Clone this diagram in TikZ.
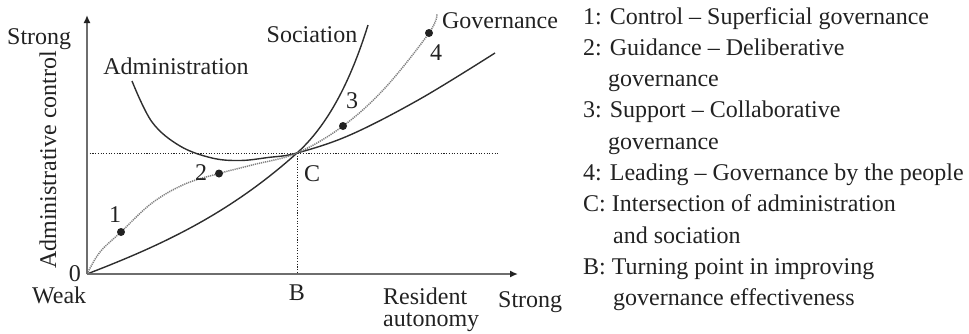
\documentclass[tikz,border=0pt]{standalone}
\usepackage{fontspec}
\setmainfont{Liberation Serif}
\usetikzlibrary{arrows.meta}
\definecolor{ink}{HTML}{222222}
\definecolor{curve}{HTML}{2E2E2E}
\definecolor{axisgray}{HTML}{6E6E6E}
\definecolor{govgray}{HTML}{808080}
\begin{document}
\begin{tikzpicture}[x=1pt,y=-1pt,
  txt/.style={inner sep=0pt, text=ink, font=\fontsize{24}{28}\selectfont},
  axisline/.style={draw=axisgray, line width=2pt, -{Latex[length=8pt,width=7pt,color=ink]}},
  solidcurve/.style={draw=curve, line width=1.4pt},
  govcurve/.style={draw=govgray, line width=1.5pt, dash pattern=on 1.2pt off 0.9pt},
  guide/.style={draw=ink, line width=1pt, dash pattern=on 1.1pt off 1.6pt},
  stage/.style={fill=ink}]
\useasboundingbox (0,0) rectangle (969,333);

% key positions
\coordinate (O) at (87,274);
\coordinate (Ytip) at (87,15);
\coordinate (Xtip) at (518,274);
\coordinate (C) at (297,153);
\coordinate (Bfoot) at (297,274);
\coordinate (Hleft) at (87,153);
\coordinate (Hright) at (498,153);
\coordinate (Stop) at (368,25);
\coordinate (P1) at (121,232);
\coordinate (P2) at (219,173.5);
\coordinate (P3) at (343,126);
\coordinate (P4) at (429,33);

% guide lines through C
\draw[guide] (Hleft) -- (Hright);
\draw[guide] (C) -- (Bfoot);

% administration curve
\draw[solidcurve] plot[smooth, tension=0.6] coordinates
  {(132,81) (152,122) (180,146) (212,158) (240,160.5) (268,157.5) (C) (350,135) (420,99) (495,53)};

% sociation curve
\draw[solidcurve] (O) .. controls (157,247) and (227,216) .. (C)
  .. controls (327,126) and (350,83) .. (Stop);

% governance path
\draw[govcurve] plot[smooth, tension=0.6] coordinates
  {(O) (100,252) (P1) (152,203) (185,184) (P2) (252,165) (C) (P3) (385,88) (P4) (437,14)};

% axes
\draw[axisline] (O) -- (Ytip);
\draw[axisline] (O) -- (Xtip);

% stages
\fill[stage] (P1) circle[radius=4pt];
\fill[stage] (P2) circle[radius=4pt];
\fill[stage] (P3) circle[radius=4pt];
\fill[stage] (P4) circle[radius=4pt];

% axis labels
\node[txt, anchor=base west] (ystrong) at (7,44) {Strong};
\node[txt, anchor=base east] (zero) at (81,281) {0};
\node[txt, anchor=base west] (weak) at (32,303) {Weak};
\node[txt, anchor=base, rotate=90] (ylab) at (56,160) {Administrative control};
\node[txt, anchor=base] (blab) at (297,300) {B};
\node[txt, anchor=base west] (clab) at (304,181) {C};
\node[txt, anchor=base west, align=left, font=\fontsize{24}{22}\selectfont] (xlab) at (383,326) {Resident\\autonomy};
\node[txt, anchor=base west] (xstrong) at (498,307) {Strong};

% curve labels
\node[txt, anchor=base] (admlab) at (176,74) {Administration};
\node[txt, anchor=base] (soclab) at (312,42) {Sociation};
\node[txt, anchor=base] (govlab) at (500,28) {Governance};
\node[txt, anchor=base] (n1) at (115,222) {1};
\node[txt, anchor=base] (n2) at (201,180) {2};
\node[txt, anchor=base] (n3) at (352,108) {3};
\node[txt, anchor=base] (n4) at (436,60) {4};

% legend
\node[txt, anchor=base west] (l1) at (583,24) {1: Control -- Superficial governance};
\node[txt, anchor=base west] (l2) at (583,55.3) {2: Guidance -- Deliberative};
\node[txt, anchor=base west] (l2b) at (608,86.6) {governance};
\node[txt, anchor=base west] (l3) at (583,117.9) {3: Support -- Collaborative};
\node[txt, anchor=base west] (l3b) at (608,149.2) {governance};
\node[txt, anchor=base west] (l4) at (583,180.5) {4: Leading -- Governance by the people};
\node[txt, anchor=base west] (l5) at (583,211.8) {C: Intersection of administration};
\node[txt, anchor=base west] (l5b) at (613,243.1) {and sociation};
\node[txt, anchor=base west] (l6) at (583,274.4) {B: Turning point in improving};
\node[txt, anchor=base west] (l6b) at (613,305.7) {governance effectiveness};
\end{tikzpicture}
\end{document}
